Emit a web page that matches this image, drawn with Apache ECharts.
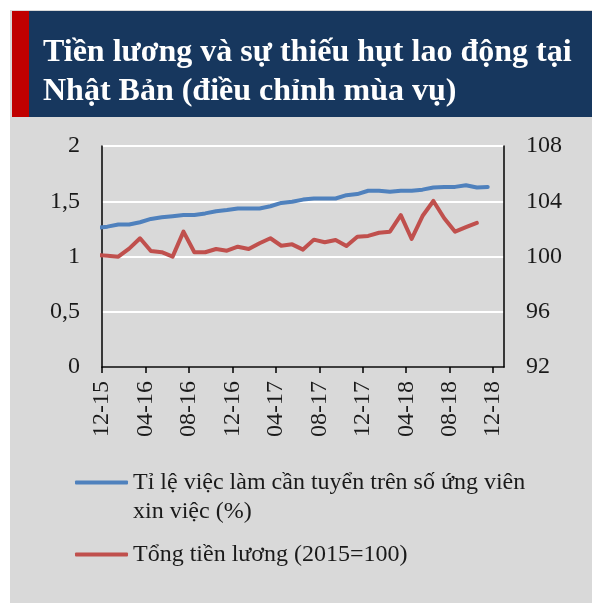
<!DOCTYPE html>
<html>
<head>
<meta charset="utf-8">
<script src="https://cdn.jsdelivr.net/npm/echarts@6/dist/echarts.min.js"></script>
<style>
  html, body { margin: 0; padding: 0; background: #fff; }
  #chart { width: 592px; height: 603px; }
</style>
</head>
<body>
<div id="chart"></div>
<script>
// month of each point, Nov 2015 .. Nov 2018 (first one sits left of the axis and gets clipped)
var months = ['11-15','12-15','01-16','02-16','03-16','04-16','05-16','06-16','07-16','08-16','09-16','10-16','11-16',
  '12-16','01-17','02-17','03-17','04-17','05-17','06-17','07-17','08-17','09-17','10-17','11-17',
  '12-17','01-18','02-18','03-18','04-18','05-18','06-18','07-18','08-18','09-18','10-18','11-18'];

// Tỉ lệ việc làm / ứng viên (left axis)
var jobRatio = [1.26, 1.27, 1.29, 1.29, 1.31, 1.34, 1.355, 1.365, 1.375, 1.375, 1.39, 1.41, 1.42,
  1.435, 1.435, 1.435, 1.455, 1.485, 1.495, 1.515, 1.525, 1.525, 1.525, 1.555, 1.565,
  1.595, 1.595, 1.585, 1.595, 1.595, 1.605, 1.625, 1.63, 1.63, 1.645, 1.625, 1.63];

// Tổng tiền lương, 2015=100 (right axis)
var wages = [100.1, 100.06, 99.99, 100.57, 101.32, 100.4, 100.31, 99.99, 101.8, 100.31, 100.31, 100.54, 100.42,
  100.71, 100.54, 100.96, 101.32, 100.78, 100.88, 100.5, 101.22, 101.03, 101.2, 100.76, 101.43,
  101.49, 101.72, 101.8, 103.0, 101.27, 102.93, 104.02, 102.77, 101.8, 102.12, 102.43, null];

var tickLabels = ['12-15','04-16','08-16','12-16','04-17','08-17','12-17','04-18','08-18','12-18'];
var tickPos = [0, 4, 8, 12, 16, 20, 24, 28, 32, 36];   // months after 12-15

var nameJobs = 'Tỉ lệ việc làm cần tuyển trên số ứng viên xin việc (%)';
var nameWages = 'Tổng tiền lương (2015=100)';

function toPoints(vals) {
  var out = [];
  for (var i = 0; i < vals.length; i++) {
    // each monthly value sits in the middle of its month
    out.push([i - 0.5, vals[i]]);
  }
  return out;
}

var fontFam = '"Liberation Serif", "DejaVu Serif", serif';
var chart = echarts.init(document.getElementById('chart'));

chart.setOption({
  backgroundColor: '#ffffff',
  animation: false,
  graphic: [
    { type: 'rect', shape: { x: 10, y: 10, width: 582, height: 593 }, style: { fill: '#d9d9d9' }, z: -10 },
    { type: 'rect', shape: { x: 12, y: 11, width: 580, height: 106 }, style: { fill: '#17375e' }, z: -9 },
    { type: 'rect', shape: { x: 12, y: 11, width: 17, height: 106 }, style: { fill: '#c00000' }, z: -8 }
  ],
  title: {
    text: 'Tiền lương và sự thiếu hụt lao động tại\nNhật Bản (điều chỉnh mùa vụ)',
    left: 43,
    top: 33,
    padding: 0,
    textStyle: {
      color: '#ffffff',
      fontFamily: fontFam,
      fontWeight: 'bold',
      fontSize: 32,
      lineHeight: 39
    }
  },
  grid: { left: 102, right: 88, top: 146, bottom: 236, containLabel: false },
  legend: [{
    data: [nameJobs],
    orient: 'vertical',
    left: 75,
    top: 439,
    padding: 0,
    itemWidth: 53,
    itemHeight: 4,
    icon: 'roundRect',
    // empty first line keeps the icon level with the first text line
    formatter: function () { return '\nTỉ lệ việc làm cần tuyển trên số ứng viên\nxin việc (%)'; },
    textStyle: { fontFamily: fontFam, fontSize: 24, color: '#1a1a1a', lineHeight: 29 }
  }, {
    data: [nameWages],
    orient: 'vertical',
    left: 75,
    top: 540,
    padding: 0,
    itemWidth: 53,
    itemHeight: 4,
    icon: 'roundRect',
    textStyle: { fontFamily: fontFam, fontSize: 24, color: '#1a1a1a', lineHeight: 29 }
  }],
  xAxis: {
    type: 'value',
    min: 0,
    max: 37,
    interval: 4,
    axisLine: { show: true, onZero: false, lineStyle: { color: '#000', width: 1.5 } },
    axisTick: { show: true, customValues: tickPos, length: 6, lineStyle: { color: '#000', width: 1.5 } },
    axisLabel: {
      customValues: tickPos,
      rotate: 90,
      margin: 14,
      fontFamily: fontFam,
      fontSize: 24,
      color: '#1a1a1a',
      formatter: function (v) { return tickLabels[tickPos.indexOf(v)] || ''; }
    },
    splitLine: { show: false }
  },
  yAxis: [{
    type: 'value',
    min: 0,
    max: 2,
    interval: 0.5,
    axisLine: { show: true, lineStyle: { color: '#000', width: 1.5 } },
    axisTick: { show: false },
    axisLabel: {
      margin: 22,
      fontFamily: fontFam,
      fontSize: 24,
      color: '#1a1a1a',
      formatter: function (v) { return String(v).replace('.', ','); }
    },
    splitLine: { show: true, lineStyle: { color: '#ffffff', width: 2 } }
  }, {
    type: 'value',
    min: 92,
    max: 108,
    interval: 4,
    axisLine: { show: true, lineStyle: { color: '#000', width: 1.5 } },
    axisTick: { show: false },
    axisLabel: { margin: 22, fontFamily: fontFam, fontSize: 24, color: '#1a1a1a' },
    splitLine: { show: false }
  }],
  series: [{
    name: nameJobs,
    type: 'line',
    yAxisIndex: 0,
    data: toPoints(jobRatio),
    showSymbol: false,
    clip: true,
    itemStyle: { color: '#4f81bd' },
    lineStyle: { color: '#4f81bd', width: 4, join: 'round', cap: 'round' }
  }, {
    name: nameWages,
    type: 'line',
    yAxisIndex: 1,
    data: toPoints(wages),
    showSymbol: false,
    clip: true,
    itemStyle: { color: '#c0504d' },
    lineStyle: { color: '#c0504d', width: 4, join: 'round', cap: 'round' }
  }]
});
</script>
</body>
</html>
